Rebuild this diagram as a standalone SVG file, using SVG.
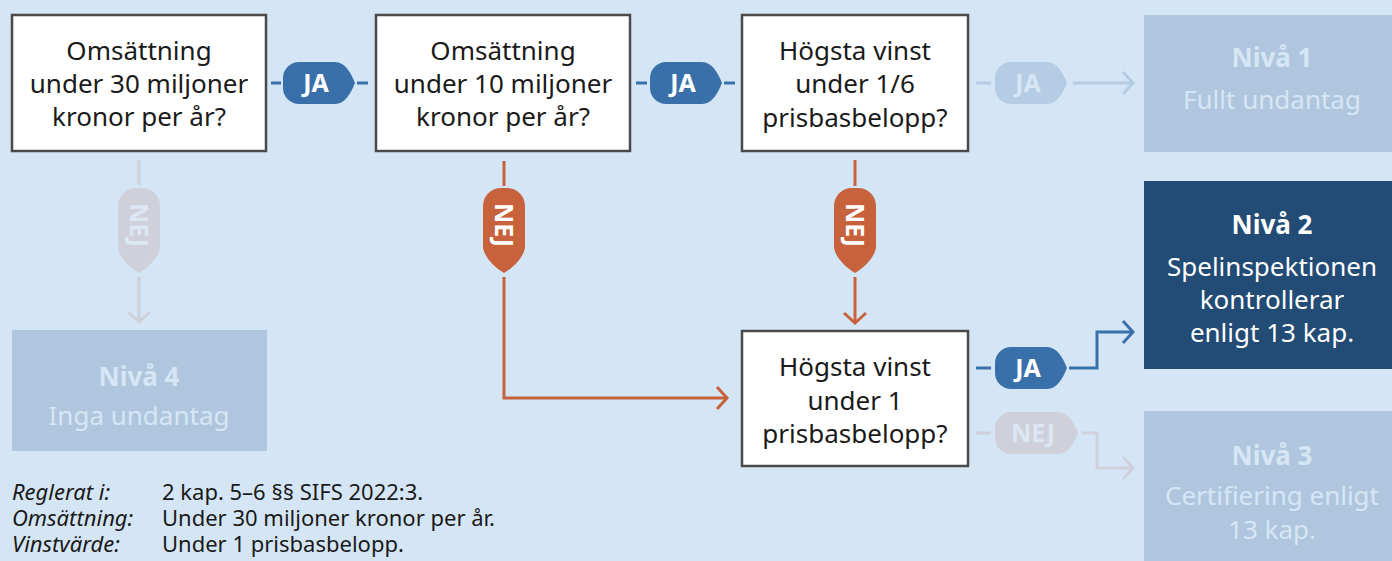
<svg xmlns="http://www.w3.org/2000/svg" width="1392" height="561" viewBox="0 0 1392 561">
<style>
.q{fill:#ffffff;stroke:#4a4a4a;stroke-width:2.5}
.qt{font-family:"Noto Sans","Open Sans",sans-serif;font-size:26px;fill:#1a1a1a;text-anchor:middle}
.lvl{font-family:"Noto Sans","Open Sans",sans-serif;font-size:26px;text-anchor:middle}
.b{font-weight:bold}
.fbox{fill:#afc6de}
.ftxt{fill:#d6e6f5}
.bt{font-family:"Noto Sans","Open Sans",sans-serif;font-size:25px;font-weight:bold;text-anchor:middle}
.ln{fill:none;stroke-width:3}
.blue{stroke:#3a70aa}
.orange{stroke:#c8623c}
.fgray{stroke:#cfd0d9}
.fblue{stroke:#b4cce4}
.leg{font-family:"Noto Sans","Open Sans",sans-serif;font-size:22px;fill:#1a1a1a}
.it{font-style:italic}
</style>
<defs>
<marker id="ab" markerUnits="userSpaceOnUse" markerWidth="24" markerHeight="26" refX="12" refY="12" orient="auto" viewBox="0 0 24 24"><path d="M2,1 L12,12 L2,23" fill="none" stroke="#3a70aa" stroke-width="3"/></marker>
<marker id="ao" markerUnits="userSpaceOnUse" markerWidth="24" markerHeight="26" refX="12" refY="12" orient="auto" viewBox="0 0 24 24"><path d="M2,1 L12,12 L2,23" fill="none" stroke="#c8623c" stroke-width="3"/></marker>
<marker id="ag" markerUnits="userSpaceOnUse" markerWidth="24" markerHeight="26" refX="12" refY="12" orient="auto" viewBox="0 0 24 24"><path d="M2,1 L12,12 L2,23" fill="none" stroke="#cfd0d9" stroke-width="3"/></marker>
<marker id="af" markerUnits="userSpaceOnUse" markerWidth="24" markerHeight="26" refX="12" refY="12" orient="auto" viewBox="0 0 24 24"><path d="M2,1 L12,12 L2,23" fill="none" stroke="#b4cce4" stroke-width="3"/></marker>
<path id="tagH" d="M16,0 H52 C62,0 68,11 72,21 C68,31 62,42 52,42 H16 A16,16 0 0 1 0,26 V16 A16,16 0 0 1 16,0 Z"/>
<path id="tagHw" d="M16,0 H63 C73,0 79,11 83,21 C79,31 73,42 63,42 H16 A16,16 0 0 1 0,26 V16 A16,16 0 0 1 16,0 Z"/>
<path id="tagV" d="M0,18 A18,18 0 0 1 18,0 H24 A18,18 0 0 1 42,18 V58 C42,68 31,79 21,85 C11,79 0,68 0,58 Z"/>
</defs>
<rect width="1392" height="561" fill="#d4e6f5"/>

<g id="connectors">
  <path class="ln blue" d="M271,83 H281 M357,83 H368"/>
  <path class="ln blue" d="M636,83 H647 M724,83 H735"/>
  <path class="ln fblue" d="M976,83 H991"/>
  <path class="ln fblue" d="M1073,83 H1133" marker-end="url(#af)"/>
  <path class="ln fgray" d="M139,160 V185"/>
  <path class="ln fgray" d="M139,277 V322" marker-end="url(#ag)"/>
  <path class="ln orange" d="M504,161 V186"/>
  <path class="ln orange" d="M504,277 V398 H727" marker-end="url(#ao)"/>
  <path class="ln orange" d="M855,160 V186"/>
  <path class="ln orange" d="M855,277 V323" marker-end="url(#ao)"/>
  <path class="ln blue" d="M976,368 H991"/>
  <path class="ln blue" d="M1069,368 H1097 V332 H1133" marker-end="url(#ab)"/>
  <path class="ln fgray" d="M976,433 H991"/>
  <path class="ln fgray" d="M1082,433 H1097 V468 H1133" marker-end="url(#ag)"/>
</g>

<g id="badges">
  <g id="ja1"><use href="#tagH" x="283" y="62" fill="#3a70aa"/><text class="bt" x="316" y="92" fill="#ffffff">JA</text></g>
  <g id="ja2"><use href="#tagH" x="650" y="62" fill="#3a70aa"/><text class="bt" x="683" y="92" fill="#ffffff">JA</text></g>
  <g id="ja3"><use href="#tagH" x="995" y="62" fill="#b4cce4"/><text class="bt" x="1028" y="92" fill="#d6e6f5">JA</text></g>
  <g id="ja4"><use href="#tagH" x="995" y="347" fill="#3a70aa"/><text class="bt" x="1028" y="377" fill="#ffffff">JA</text></g>
  <g id="nej4"><use href="#tagHw" x="995" y="412" fill="#cfd0d9"/><text class="bt" x="1033" y="442" fill="#dce7f3">NEJ</text></g>
  <g id="nej1"><use href="#tagV" x="118" y="188" fill="#cfd0d9"/><text class="bt" transform="translate(130,225) rotate(90)" fill="#dce7f3">NEJ</text></g>
  <g id="nej2"><use href="#tagV" x="483" y="188" fill="#c8623c"/><text class="bt" transform="translate(495,225) rotate(90)" fill="#ffffff">NEJ</text></g>
  <g id="nej3"><use href="#tagV" x="834" y="188" fill="#c8623c"/><text class="bt" transform="translate(846,225) rotate(90)" fill="#ffffff">NEJ</text></g>
</g>

<g id="q1">
  <rect class="q" x="12" y="15" width="254" height="136"/>
  <text class="qt" x="139"><tspan x="139" y="60">Omsättning</tspan><tspan x="139" y="93">under 30 miljoner</tspan><tspan x="139" y="126">kronor per år?</tspan></text>
</g>
<g id="q2">
  <rect class="q" x="376" y="15" width="254" height="136"/>
  <text class="qt" x="503"><tspan x="503" y="60">Omsättning</tspan><tspan x="503" y="93">under 10 miljoner</tspan><tspan x="503" y="126">kronor per år?</tspan></text>
</g>
<g id="q3">
  <rect class="q" x="742" y="15" width="226" height="136"/>
  <text class="qt" x="855"><tspan x="855" y="60">Högsta vinst</tspan><tspan x="855" y="93">under 1/6</tspan><tspan x="855" y="127">prisbasbelopp?</tspan></text>
</g>
<g id="q4">
  <rect class="q" x="742" y="331" width="226" height="135"/>
  <text class="qt" x="855"><tspan x="855" y="376">Högsta vinst</tspan><tspan x="855" y="410">under 1</tspan><tspan x="855" y="443">prisbasbelopp?</tspan></text>
</g>

<g id="niva1">
  <rect class="fbox" x="1144" y="15" width="248" height="137"/>
  <text class="lvl ftxt" x="1272"><tspan class="b" x="1272" y="67">Nivå 1</tspan><tspan x="1272" y="109">Fullt undantag</tspan></text>
</g>
<g id="niva2">
  <rect x="1144" y="181" width="248" height="188" fill="#224b75"/>
  <text class="lvl" x="1272" fill="#ffffff"><tspan class="b" x="1272" y="234">Nivå 2</tspan><tspan x="1272" y="276">Spelinspektionen</tspan><tspan x="1272" y="309">kontrollerar</tspan><tspan x="1272" y="342">enligt 13 kap.</tspan></text>
</g>
<g id="niva3">
  <rect class="fbox" x="1144" y="411" width="248" height="150"/>
  <text class="lvl ftxt" x="1272"><tspan class="b" x="1272" y="465">Nivå 3</tspan><tspan x="1272" y="505">Certifiering enligt</tspan><tspan x="1272" y="539">13 kap.</tspan></text>
</g>
<g id="niva4">
  <rect class="fbox" x="12" y="330" width="255" height="121"/>
  <text class="lvl ftxt" x="139"><tspan class="b" x="139" y="386">Nivå 4</tspan><tspan x="139" y="425">Inga undantag</tspan></text>
</g>

<g id="legend">
  <text class="leg it" x="12" y="500">Reglerat i:</text>
  <text class="leg" x="162" y="500">2 kap. 5–6 §§ SIFS 2022:3.</text>
  <text class="leg it" x="12" y="526">Omsättning:</text>
  <text class="leg" x="162" y="526">Under 30 miljoner kronor per år.</text>
  <text class="leg it" x="12" y="552">Vinstvärde:</text>
  <text class="leg" x="162" y="552">Under 1 prisbasbelopp.</text>
</g>
</svg>
